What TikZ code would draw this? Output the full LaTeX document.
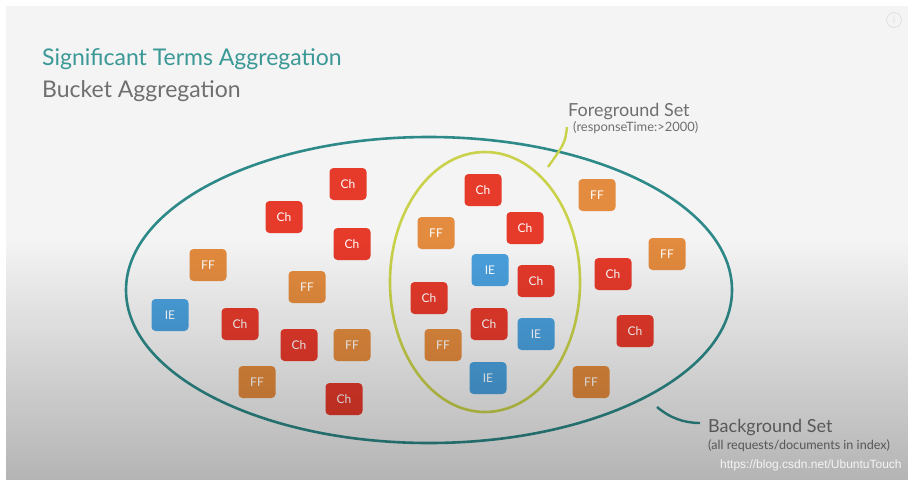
\documentclass[tikz,border=0pt]{standalone}
\usepackage{fontspec}
\setmainfont{Lato}
\newfontfamily\wmfont{Liberation Sans}
\usetikzlibrary{fadings}
\definecolor{slidebg}{HTML}{F4F4F4}
\definecolor{chred}{HTML}{E63A2B}
\definecolor{fforange}{HTML}{E38B3E}
\definecolor{ieblue}{HTML}{4AA0DD}
\definecolor{tealline}{HTML}{2D8A89}
\definecolor{titleteal}{HTML}{3A9896}
\definecolor{yellowline}{HTML}{C9D24A}
\definecolor{greytext}{HTML}{6F6F6F}
\tikzfading[name=shadedown, top color=transparent!100, bottom color=transparent!74]
\tikzset{
  itembox/.style={rounded corners=4pt, minimum width=37pt, minimum height=32pt,
    inner sep=0pt, text=white, font=\fontsize{12}{12}\selectfont},
  ch/.style={itembox, fill=chred},
  ff/.style={itembox, fill=fforange},
  ie/.style={itembox, fill=ieblue},
  label/.style={anchor=base west, inner sep=0pt, text=greytext},
  bigset/.style={draw=tealline, line width=2.6pt},
  fgset/.style={draw=yellowline, line width=2.6pt},
}
\begin{document}
\begin{tikzpicture}[x=1pt, y=-1pt]
\useasboundingbox (0,0) rectangle (916,488);
\fill[white] (0,0) rectangle (916,488);
\fill[slidebg] (6,6) rectangle (908,480);
% info icon
\node[circle, draw=black!12, line width=0.8pt, minimum size=15pt, inner sep=0pt,
  text=black!12, font=\fontsize{10}{10}\selectfont] (info) at (894,20) {i};
% titles
\node[label, text=titleteal, font=\fontsize{23}{24}\selectfont] (title) at (42,65) {Significant Terms Aggregation};
\node[label, font=\fontsize{23}{24}\selectfont] (subtitle) at (42,97) {Bucket Aggregation};
% sets
\draw[bigset] (429,290) ellipse [x radius=303, y radius=153];
\draw[fgset] (485,282) ellipse [x radius=95, y radius=130];
% items
\foreach \x/\y/\s/\t [count=\i] in {
  348/184/ch/Ch, 284/217/ch/Ch, 352/244/ch/Ch, 208/265/ff/FF, 307/287/ff/FF,
  170/315/ie/IE, 240/324/ch/Ch, 299/345/ch/Ch, 352/345/ff/FF, 257/382/ff/FF,
  344/399/ch/Ch,
  483/190/ch/Ch, 436/233/ff/FF, 525/228/ch/Ch, 490/270/ie/IE, 536/281/ch/Ch,
  429/298/ch/Ch, 489/324/ch/Ch, 536/334/ie/IE, 443/345/ff/FF, 488/378/ie/IE,
  597/195/ff/FF, 667/254/ff/FF, 613/274/ch/Ch, 635/331/ch/Ch, 591/382/ff/FF}
  \node[\s] (item\i) at (\x,\y) {\t};
% foreground label
\node[label, font=\fontsize{18}{18}\selectfont] (fglabel) at (568,116) {Foreground Set};
\node[label, font=\fontsize{12.9}{13}\selectfont] (fgsub) at (573,131) {(responseTime:>2000)};
\coordinate (fgA) at (567,127);
\coordinate (fgB) at (548,167);
\draw[yellowline, line width=2.4pt] (fgA) .. controls (565,143) .. (fgB);
% background label
\node[label, font=\fontsize{18}{18}\selectfont] (bglabel) at (708,432) {Background Set};
\node[label, font=\fontsize{12.6}{13}\selectfont] (bgsub) at (708,449) {(all requests/documents in index)};
\coordinate (bgA) at (657,407);
\coordinate (bgB) at (700,423);
\draw[tealline, line width=2.4pt] (bgA) .. controls (670,418) and (684,423) .. (bgB);
% bottom shadow overlay
\fill[black, path fading=shadedown] (6,240) rectangle (908,480);
% watermark
\node[anchor=base west, inner sep=0pt, text=white, opacity=0.85,
  font=\wmfont\fontsize{12}{12}\selectfont] (wm) at (720,468) {https://blog.csdn.net/UbuntuTouch};
\end{tikzpicture}
\end{document}
